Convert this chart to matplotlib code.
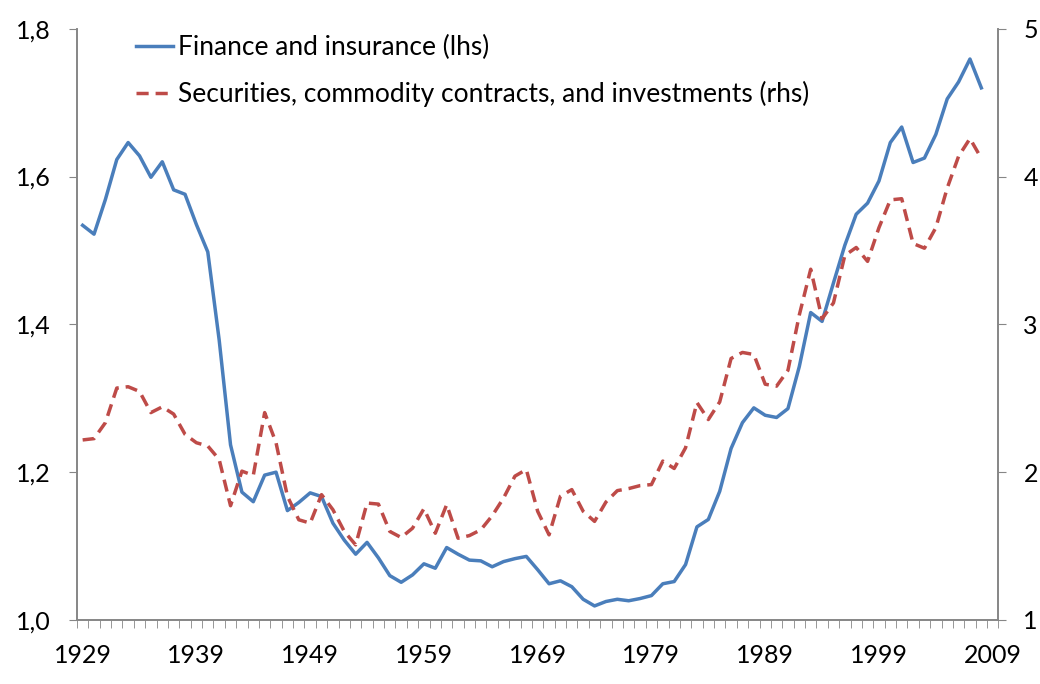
# ---------------------- 数据 ----------------------
import matplotlib
matplotlib.use("Agg")
import matplotlib.pyplot as plt
from matplotlib.ticker import FixedLocator, FuncFormatter

years = list(range(1929, 2009))

# Finance and insurance (lhs)
finance = [
    1.534, 1.522, 1.569, 1.623, 1.646, 1.628, 1.599, 1.620, 1.582, 1.576,
    1.535, 1.498, 1.379, 1.237, 1.173, 1.160, 1.196, 1.200, 1.148, 1.159,
    1.172, 1.167, 1.131, 1.108, 1.089, 1.105, 1.084, 1.060, 1.051, 1.061,
    1.076, 1.070, 1.098, 1.089, 1.081, 1.080, 1.072, 1.079, 1.083, 1.086,
    1.068, 1.049, 1.053, 1.045, 1.028, 1.019, 1.025, 1.028, 1.026, 1.029,
    1.033, 1.049, 1.052, 1.075, 1.126, 1.136, 1.174, 1.232, 1.267, 1.287,
    1.277, 1.274, 1.286, 1.343, 1.416, 1.404, 1.456, 1.507, 1.549, 1.564,
    1.594, 1.646, 1.667, 1.619, 1.625, 1.657, 1.705, 1.728, 1.759, 1.720,
]

# Securities, commodity contracts, and investments (rhs)
securities = [
    2.218, 2.227, 2.335, 2.569, 2.578, 2.546, 2.403, 2.442, 2.393, 2.256,
    2.199, 2.177, 2.086, 1.773, 2.007, 1.978, 2.403, 2.199, 1.837, 1.678,
    1.655, 1.848, 1.746, 1.599, 1.508, 1.791, 1.784, 1.599, 1.558, 1.621,
    1.753, 1.587, 1.780, 1.553, 1.571, 1.610, 1.705, 1.825, 1.973, 2.018,
    1.735, 1.576, 1.837, 1.882, 1.735, 1.667, 1.798, 1.875, 1.889, 1.909,
    1.916, 2.075, 2.025, 2.165, 2.471, 2.356, 2.475, 2.769, 2.810, 2.796,
    2.595, 2.582, 2.689, 3.064, 3.373, 3.038, 3.145, 3.466, 3.520, 3.426,
    3.654, 3.842, 3.850, 3.547, 3.515, 3.654, 3.922, 4.137, 4.257, 4.123,
]

year_labels = list(range(1929, 2010, 10))
left_ticks = [1.0, 1.2, 1.4, 1.6, 1.8]
right_ticks = [1, 2, 3, 4, 5]

# ---------------------- 绘图 ----------------------
plt.rcParams["font.family"] = ["Lato", "DejaVu Sans"]
blue = "#4a7ebb"
red = "#be4b48"
gray = "#868686"

fig = plt.figure(figsize=(10.4, 6.84), dpi=100)
ax = fig.add_axes([0.074, 0.0936, 0.886, 0.8644])
ax2 = ax.twinx()

l1, = ax.plot(years, finance, color=blue, lw=2.5, label="Finance and insurance (lhs)")
l2, = ax2.plot(years, securities, color=red, lw=2.5, dashes=(3.5, 2),
               label="Securities, commodity contracts, and investments (rhs)")

ax.set_xlim(1928.5, 2009.5)
ax.set_ylim(1.0, 1.8)
ax2.set_ylim(1, 5)

# x 轴：每年一个刻度线，每10年一个标签
ax.xaxis.set_major_locator(FixedLocator(year_labels))
ax.xaxis.set_minor_locator(FixedLocator([y - 0.5 for y in range(1929, 2011)]))
ax.tick_params(axis="x", which="major", length=0, pad=17, labelsize=18)
ax.tick_params(axis="x", which="minor", length=6, color=gray, direction="out")

ax.set_yticks(left_ticks)
ax.yaxis.set_major_formatter(FuncFormatter(lambda v, p: f"{v:.1f}".replace(".", ",")))
ax.tick_params(axis="y", length=6, color=gray, labelsize=18, pad=13)
ax2.set_yticks(right_ticks)
ax2.tick_params(axis="y", length=6, color=gray, labelsize=18, pad=12)

for a in (ax, ax2):
    a.spines["top"].set_visible(False)
    for s in ("left", "right", "bottom"):
        a.spines[s].set_color(gray)
        a.spines[s].set_linewidth(1.2)

ax.legend([l1, l2], [l1.get_label(), l2.get_label()], loc="upper left",
          bbox_to_anchor=(0.038, 1.03), frameon=False, fontsize=19,
          handlelength=1.4, handletextpad=0.2, labelspacing=0.8)

fig.savefig("out.png", dpi=100)
